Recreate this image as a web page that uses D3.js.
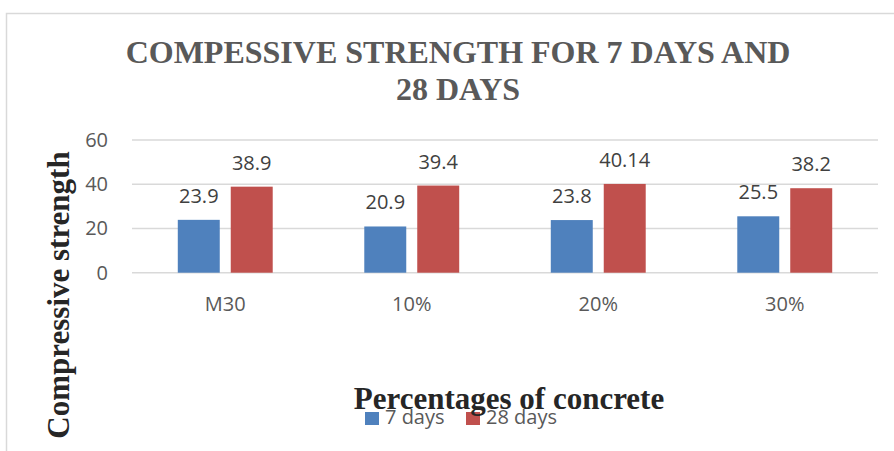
<!DOCTYPE html>
<html>
<head>
<meta charset="utf-8">
<script src="https://cdn.jsdelivr.net/npm/d3@7"></script>
<style>
  html, body { margin: 0; padding: 0; background: #fff; }
  svg { display: block; }
</style>
</head>
<body>
<svg id="chart" width="894" height="451"></svg>
<script>
const categories = ["M30", "10%", "20%", "30%"];
const seriesNames = ["7 days", "28 days"];
const days7 = [23.9, 20.9, 23.8, 25.5];
const days28 = [38.9, 39.4, 40.14, 38.2];
const yTicks = [0, 20, 40, 60];
const colors = ["#4f81bd", "#c0504d"];

const svg = d3.select("#chart");
const W = 894, H = 451;
const plot = { left: 132, right: 878, top: 140, bottom: 272.7 };

// frame
svg.append("rect")
  .attr("x", 6.5).attr("y", 13.5)
  .attr("width", W + 10).attr("height", H + 10)
  .attr("fill", "#fff").attr("stroke", "#d9d9d9").attr("stroke-width", 1.5);

// title
const title = svg.append("text")
  .attr("text-anchor", "middle")
  .attr("font-family", "'Liberation Serif', 'Times New Roman', serif")
  .attr("font-weight", "bold")
  .attr("font-size", 32)
  .attr("fill", "#595959");
title.append("tspan").attr("x", 458).attr("y", 63).text("COMPESSIVE STRENGTH FOR 7 DAYS AND");
title.append("tspan").attr("x", 458).attr("y", 100).text("28 DAYS");

const x0 = d3.scaleBand().domain(categories).range([plot.left, plot.right]).paddingInner(0).paddingOuter(0);
const groupW = x0.bandwidth() * 0.509;
const x1 = d3.scaleBand().domain(seriesNames).range([-groupW / 2, groupW / 2]).paddingInner(0.2075).paddingOuter(0);
const y = d3.scaleLinear().domain([0, 60]).range([plot.bottom, plot.top]);

// gridlines
svg.append("g").selectAll("line").data(yTicks).join("line")
  .attr("x1", plot.left).attr("x2", plot.right)
  .attr("y1", d => y(d)).attr("y2", d => y(d))
  .attr("stroke", "#d9d9d9").attr("stroke-width", 1.5);

// y axis tick labels
const yAxis = d3.axisLeft(y).tickValues(yTicks).tickSize(0).tickPadding(24);
const gy = svg.append("g").attr("transform", `translate(${plot.left},0)`).call(yAxis);
gy.select(".domain").remove();
gy.selectAll("text")
  .attr("font-family", "'Open Sans', sans-serif")
  .attr("font-size", 20)
  .attr("fill", "#595959");

// x axis labels
const xAxis = d3.axisBottom(x0).tickSize(0).tickPadding(0);
const gx = svg.append("g").attr("transform", `translate(0,${plot.bottom})`).call(xAxis);
gx.select(".domain").remove();
gx.selectAll("text")
  .attr("font-family", "'Open Sans', sans-serif")
  .attr("font-size", 20)
  .attr("fill", "#595959")
  .attr("dy", null)
  .attr("y", 38);

// bars
const rows = categories.map((c, i) => ({ cat: c, vals: [days7[i], days28[i]] }));
const groups = svg.append("g").selectAll("g").data(rows).join("g")
  .attr("transform", d => `translate(${x0(d.cat) + x0.bandwidth() / 2},0)`);
groups.selectAll("rect").data(d => d.vals.map((v, j) => ({ s: seriesNames[j], v, j }))).join("rect")
  .attr("x", d => x1(d.s))
  .attr("width", x1.bandwidth())
  .attr("y", d => y(d.v))
  .attr("height", d => y(0) - y(d.v))
  .attr("fill", d => colors[d.j]);
groups.selectAll("text").data(d => d.vals.map((v, j) => ({ s: seriesNames[j], v, j }))).join("text")
  .attr("x", d => x1(d.s) + x1.bandwidth() / 2)
  .attr("y", d => y(d.v) - 17)
  .attr("text-anchor", "middle")
  .attr("font-family", "'Open Sans', sans-serif")
  .attr("font-size", 20)
  .attr("fill", "#404040")
  .text(d => String(d.v));

// y axis title
svg.append("text")
  .attr("transform", "translate(69,295) rotate(-90)")
  .attr("text-anchor", "middle")
  .attr("font-family", "'Liberation Serif', 'Times New Roman', serif")
  .attr("font-weight", "bold")
  .attr("font-size", 31)
  .attr("fill", "#262626")
  .text("Compressive strength");

// legend
const legend = svg.append("g");
const legX = [365, 466];
seriesNames.forEach((s, i) => {
  legend.append("rect").attr("x", legX[i]).attr("y", 412).attr("width", 14).attr("height", 13).attr("fill", colors[i]);
  legend.append("text").attr("x", legX[i] + 20).attr("y", 424)
    .attr("font-family", "'Open Sans', sans-serif").attr("font-size", 20).attr("fill", "#595959").text(s);
});

// x axis title (drawn over legend as in reference)
svg.append("text")
  .attr("x", 509).attr("y", 409)
  .attr("text-anchor", "middle")
  .attr("font-family", "'Liberation Serif', 'Times New Roman', serif")
  .attr("font-weight", "bold")
  .attr("font-size", 31)
  .attr("fill", "#262626")
  .text("Percentages of concrete");
</script>
</body>
</html>
